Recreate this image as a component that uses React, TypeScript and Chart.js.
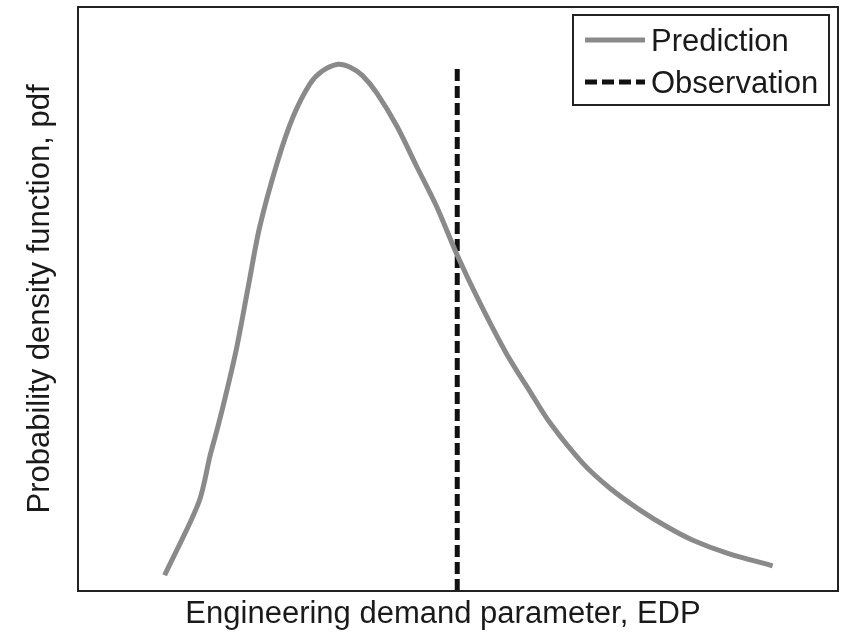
import React, { useEffect, useRef } from "react";
import { Chart, registerables } from "chart.js";

Chart.register(...registerables);

// Prediction curve (EDP on 0..100 scale, pdf on 0..100 scale)
const predictionX = [11.4, 15.9, 17.4, 18.4, 19.6, 20.9, 22.4, 23.9, 26.2, 28.3, 30.5, 32.1, 34.2, 35.8, 37.4, 39.3, 42.0, 44.6, 47.2, 49.9, 52.9, 56.4, 59.5, 62.1, 66.4, 70.0, 73.9, 77.5, 80.9, 85.4, 91.4];
const predictionY = [2.7, 15.2, 23.3, 28.1, 34.4, 41.8, 52.1, 62.3, 73.3, 81.2, 86.8, 89.0, 90.2, 89.7, 88.3, 85.3, 79.5, 72.6, 65.8, 57.5, 49.3, 40.6, 34.1, 28.8, 21.9, 17.6, 13.9, 11.0, 8.7, 6.5, 4.3];

// Observation (vertical line)
const observationX = [49.9, 49.9];
const observationY = [0, 90.1];

const seriesLabels = ["Prediction", "Observation"];
const xTitle = "Engineering demand parameter, EDP";
const yTitle = "Probability density function, pdf";

const FONT = "'Liberation Sans', Arial, Helvetica, sans-serif";

const titleShiftPlugin = {
  id: "titleShift",
  afterLayout(chart: any) {
    const sx = chart.scales.x;
    if (sx && !sx.__shifted) {
      const orig = sx.drawTitle.bind(sx);
      sx.drawTitle = function () {
        const c = this.ctx;
        c.save();
        c.translate(-15, 0);
        orig();
        c.restore();
      };
      sx.__shifted = true;
    }
  },
};

const boxPlugin = {
  id: "frameAndLegend",
  afterDraw(chart: any) {
    const { ctx, chartArea } = chart;
    ctx.save();
    // frame
    ctx.strokeStyle = "#222";
    ctx.lineWidth = 2;
    ctx.strokeRect(chartArea.left, chartArea.top, chartArea.right - chartArea.left, chartArea.bottom - chartArea.top);
    // legend
    const bw = 256, bh = 90;
    const bx = chartArea.right - 265;
    const by = chartArea.top + 8;
    ctx.fillStyle = "#fff";
    ctx.fillRect(bx, by, bw, bh);
    ctx.strokeStyle = "#222";
    ctx.lineWidth = 2;
    ctx.strokeRect(bx, by, bw, bh);
    const rows = [by + 25, by + 67];
    chart.data.datasets.forEach((ds: any, i: number) => {
      const y = rows[i];
      ctx.beginPath();
      ctx.strokeStyle = ds.borderColor;
      ctx.lineWidth = ds.borderWidth;
      ctx.setLineDash(ds.borderDash || []);
      ctx.lineCap = "butt";
      ctx.moveTo(bx + 12, y);
      ctx.lineTo(bx + 72, y);
      ctx.stroke();
      ctx.setLineDash([]);
      ctx.fillStyle = "#1a1a1a";
      ctx.font = `31px ${FONT}`;
      ctx.textBaseline = "middle";
      ctx.textAlign = "left";
      ctx.fillText(ds.label, bx + 78, y + 2);
    });
    ctx.restore();
  },
};

export default function App() {
  const ref = useRef<HTMLCanvasElement | null>(null);
  useEffect(() => {
    if (!ref.current) return;
    const chart = new Chart(ref.current, {
      type: "line",
      data: {
        datasets: [
          {
            label: seriesLabels[0],
            data: predictionX.map((x, i) => ({ x, y: predictionY[i] })),
            borderColor: "#8a8a8a",
            borderWidth: 5,
            pointRadius: 0,
            tension: 0.3,
            borderCapStyle: "butt",
            fill: false,
          },
          {
            label: seriesLabels[1],
            data: observationX.map((x, i) => ({ x, y: observationY[i] })),
            borderColor: "#111",
            borderWidth: 5,
            borderDash: [12, 5],
            pointRadius: 0,
            borderCapStyle: "butt",
            fill: false,
          },
        ],
      },
      options: {
        responsive: false,
        animation: false,
        layout: { padding: { top: 7, right: 5, left: 0, bottom: 0 } },
        plugins: { legend: { display: false }, tooltip: { enabled: false } },
        scales: {
          x: {
            type: "linear",
            min: 0,
            max: 100,
            ticks: { display: false },
            grid: { display: false, drawTicks: false },
            border: { display: true, color: "#222", width: 2 },
            title: {
              display: true,
              text: xTitle,
              color: "#1a1a1a",
              font: { size: 31, family: FONT, lineHeight: 1.2 },
              padding: { top: 4.4, bottom: 2.4 },
            },
          },
          y: {
            type: "linear",
            min: 0,
            max: 100,
            ticks: { display: false },
            grid: { display: false, drawTicks: false },
            border: { display: true, color: "#222", width: 2 },
            title: {
              display: true,
              text: yTitle,
              color: "#1a1a1a",
              font: { size: 31, family: FONT, lineHeight: 1.2 },
              padding: { top: 21.4, bottom: 19.4 },
            },
          },
        },
      },
      plugins: [titleShiftPlugin, boxPlugin],
    });
    return () => chart.destroy();
  }, []);
  return (
    <div style={{ position: "absolute", left: 0, top: 0, width: 843, height: 635, background: "#fff" }}>
      <canvas ref={ref} width={843} height={635} />
    </div>
  );
}
